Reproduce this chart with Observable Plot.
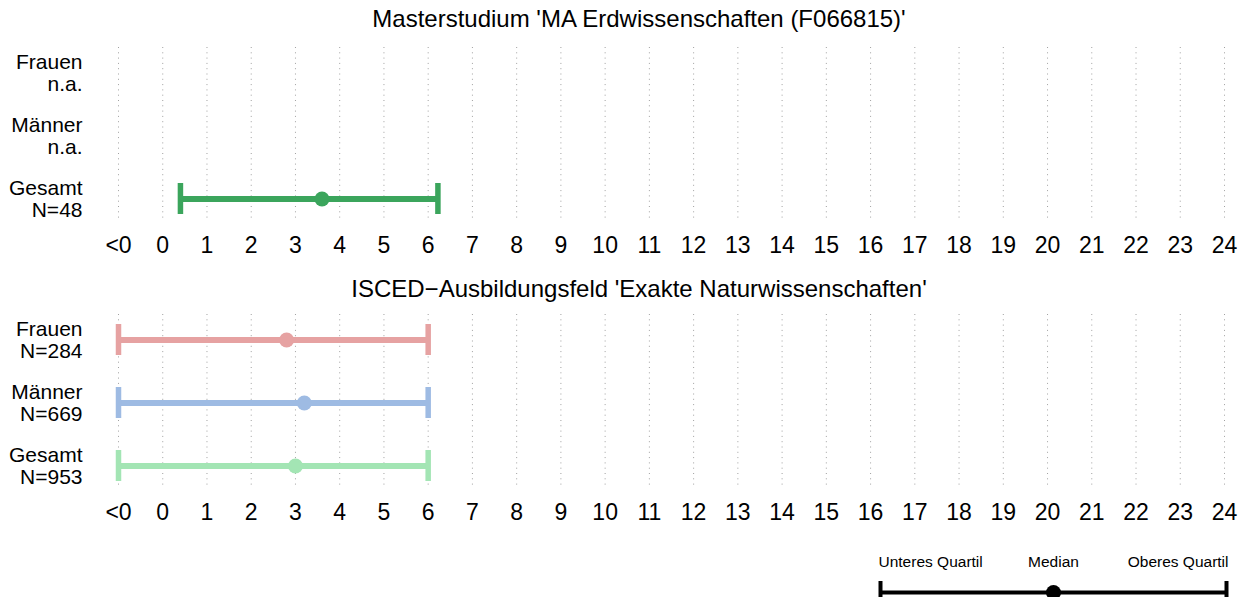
<!DOCTYPE html>
<html>
<head>
<meta charset="utf-8">
<script src="https://cdn.jsdelivr.net/npm/d3@7"></script>
<script src="https://cdn.jsdelivr.net/npm/@observablehq/plot@0.6"></script>
<style>
  html, body { margin: 0; padding: 0; background: #fff; }
  #root { position: relative; width: 1240px; height: 597px; overflow: hidden; font-family: "Liberation Sans", Arial, sans-serif; }
  .title { position: absolute; left: 239px; width: 800px; text-align: center; font-size: 24px; color: #000; line-height: 1; white-space: nowrap; }
  .panel { position: absolute; left: 0; }
</style>
</head>
<body>
<div id="root"></div>
<script>
// ---- data ----
const panel1Title = "Masterstudium 'MA Erdwissenschaften (F066815)'";
const panel2Title = "ISCED\u2212Ausbildungsfeld 'Exakte Naturwissenschaften'";
const groups = ["Frauen", "Männer", "Gesamt"];
const panel1N = ["n.a.", "n.a.", "N=48"];
const panel1Q1 = [null, null, 0.4];
const panel1Median = [null, null, 3.6];
const panel1Q3 = [null, null, 6.22];
const panel1Colors = ["#3BA55C", "#3BA55C", "#3BA55C"];
const panel2N = ["N=284", "N=669", "N=953"];
const panel2Q1 = [-1, -1, -1];
const panel2Median = [2.8, 3.2, 3.0];
const panel2Q3 = [6, 6, 6];
const panel2Colors = ["#E6A2A2", "#9EBBE3", "#A3E5B4"];
const tickValues = [-1, 0, 1, 2, 3, 4, 5, 6, 7, 8, 9, 10, 11, 12, 13, 14, 15, 16, 17, 18, 19, 20, 21, 22, 23, 24];
const tickLabels = ["<0", "0", "1", "2", "3", "4", "5", "6", "7", "8", "9", "10", "11", "12", "13", "14", "15", "16", "17", "18", "19", "20", "21", "22", "23", "24"];
const legendLabels = ["Unteres Quartil", "Median", "Oberes Quartil"];
const legendPositions = [0, 0.5, 1];

const FONT = "Liberation Sans, Arial, sans-serif";
const root = document.getElementById("root");

function makePanel(title, titleTop, top, nLabels, q1, med, q3, colors) {
  const rows = groups.map((g, i) => ({
    group: g, label: g + "\n" + nLabels[i], q1: q1[i], med: med[i], q3: q3[i], color: colors[i]
  }));
  const valid = rows.filter(d => d.med != null);
  const t = document.createElement("div");
  t.className = "title";
  t.style.top = titleTop + "px";
  t.textContent = title;
  root.appendChild(t);
  const chart = Plot.plot({
    width: 1240,
    height: 225,
    marginLeft: 118,
    marginRight: 16,
    marginTop: 12,
    marginBottom: 40,
    style: { fontFamily: FONT, background: "transparent", overflow: "visible" },
    x: { domain: [-1, 24], axis: null },
    y: { type: "band", domain: groups, range: [5.5, 194.5], padding: 0, axis: null },
    marks: [
      Plot.ruleX(tickValues, { stroke: "#a0a0a0", strokeWidth: 1, strokeDasharray: "1,4.3" }),
      Plot.text(tickValues, {
        x: d => d, text: (d, i) => tickLabels[i], frameAnchor: "bottom", lineAnchor: "middle",
        dy: 25, fontSize: 23, fill: "#000"
      }),
      Plot.text(rows, {
        y: "group", text: "label", frameAnchor: "left", textAnchor: "end", dx: -36,
        fontSize: 21, lineHeight: 1.07, fill: "#000"
      }),
      Plot.ruleY(valid, { y: "group", x1: "q1", x2: "q3", stroke: "color", strokeWidth: 6 }),
      Plot.tickX(valid, { x: "q1", y: "group", stroke: "color", strokeWidth: 5.5, insetTop: 16, insetBottom: 16 }),
      Plot.tickX(valid, { x: "q3", y: "group", stroke: "color", strokeWidth: 5.5, insetTop: 16, insetBottom: 16 }),
      Plot.dot(valid, { x: "med", y: "group", fill: "color", r: 7.5 })
    ]
  });
  chart.classList.add("panel");
  chart.style.top = top + "px";
  root.appendChild(chart);
}

makePanel(panel1Title, 7, 35, panel1N, panel1Q1, panel1Median, panel1Q3, panel1Colors);
makePanel(panel2Title, 277, 302, panel2N, panel2Q1, panel2Median, panel2Q3, panel2Colors);

// legend
const legendItems = legendLabels.map((l, i) => ({ label: l, pos: legendPositions[i] }));
const legend = Plot.plot({
  width: 1240,
  height: 57,
  marginLeft: 880,
  marginRight: 14,
  marginTop: 0,
  marginBottom: 0,
  style: { fontFamily: FONT, background: "transparent", overflow: "visible" },
  x: { domain: [0, 1], axis: null },
  y: { type: "band", domain: ["label", "bar"], range: [7, 67], padding: 0, axis: null },
  marks: [
    Plot.text(legendItems.filter(d => d.pos === 0), { x: "pos", y: () => "label", text: "label", textAnchor: "start", dx: -2, fontSize: 15.5, fill: "#000" }),
    Plot.text(legendItems.filter(d => d.pos === 0.5), { x: "pos", y: () => "label", text: "label", textAnchor: "middle", fontSize: 15.5, fill: "#000" }),
    Plot.text(legendItems.filter(d => d.pos === 1), { x: "pos", y: () => "label", text: "label", textAnchor: "end", dx: 2, fontSize: 15.5, fill: "#000" }),
    Plot.ruleY([{ a: 0, b: 1 }], { y: () => "bar", x1: "a", x2: "b", stroke: "#000", strokeWidth: 4 }),
    Plot.tickX([0, 1], { x: d => d, y: () => "bar", stroke: "#000", strokeWidth: 4, insetTop: 4, insetBottom: 4 }),
    Plot.dot([0.5], { x: d => d, y: () => "bar", fill: "#000", r: 7.5 })
  ]
});
legend.classList.add("panel");
legend.style.top = "540px";
root.appendChild(legend);
</script>
</body>
</html>
